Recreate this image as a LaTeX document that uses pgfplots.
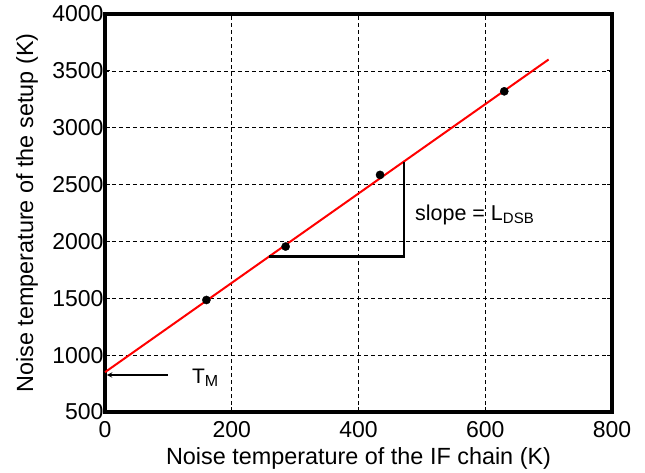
\documentclass[border=0pt]{standalone}
\usepackage{fontspec}
\setmainfont{Liberation Sans}
\usepackage{pgfplots}
\pgfplotsset{compat=1.18}
\begin{document}
\begin{tikzpicture}
\begin{axis}[
  scale only axis,
  width=507pt, height=398pt,
  xmin=0, xmax=800, ymin=500, ymax=4000,
  xtick={0,200,400,600,800},
  ytick={500,1000,1500,2000,2500,3000,3500,4000},
  grid=major,
  major grid style={black, line width=0.7pt, dash pattern=on 4pt off 3pt},
  axis line style={line width=3.2pt},
  tick style={black, line width=1.2pt},
  tick align=inside,
  major tick length=5pt,
  xticklabel style={font=\fontsize{23}{27}\selectfont, anchor=base, yshift=-25.5pt},
  yticklabel style={font=\fontsize{23}{27}\selectfont, xshift=2pt},
  /pgf/number format/assume math mode=true,
  /pgf/number format/1000 sep={},
  xlabel={Noise temperature of the IF chain (K)},
  ylabel={Noise temperature of the setup (K)},
  label style={font=\fontsize{23.4}{28}\selectfont},
  xlabel style={at={(axis description cs:0.5,-0.1307)}, anchor=base},
  ylabel style={at={(axis description cs:-0.142,0.5)}, anchor=base},
  clip=false,
]
\addplot[red, line width=2pt] coordinates {(0,850) (700,3600)};
\addplot[only marks, mark=*, mark size=4.1pt, black] coordinates {
  (160,1485) (285,1955) (434,2585) (630,3320)};
\addplot[black, line width=2.6pt] coordinates {(259,1866) (472,1866) (472,2701)};
\addplot[black, line width=1.4pt, -stealth] coordinates {(99,825) (3,825)};
\node[anchor=base west, font=\fontsize{21.5}{25}\selectfont, inner sep=0pt] at (axis cs:489,2188) {slope = L\textsubscript{\fontsize{15}{18}\selectfont DSB}};
\node[anchor=base west, font=\fontsize{21}{25}\selectfont, inner sep=0pt] at (axis cs:137,755) {T\textsubscript{\fontsize{16}{18}\selectfont M}};
\end{axis}
\pgfresetboundingbox
\path (-105pt,-60pt) rectangle (540pt,412pt);
\end{tikzpicture}
\end{document}
